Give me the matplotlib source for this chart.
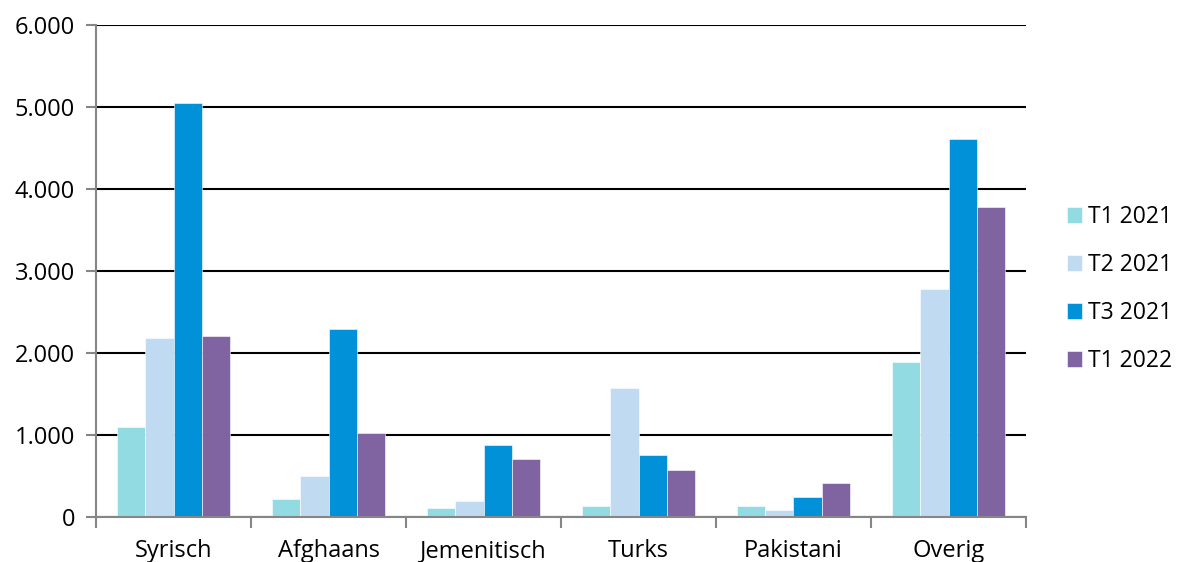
import numpy as np
import matplotlib
matplotlib.use("Agg")
import matplotlib.pyplot as plt
from matplotlib.ticker import FuncFormatter, FixedLocator

# data
categories = ["Syrisch", "Afghaans", "Jemenitisch", "Turks", "Pakistani", "Overig"]
series_names = ["T1 2021", "T2 2021", "T3 2021", "T1 2022"]
t1_2021 = [1100, 220, 110, 130, 130, 1890]
t2_2021 = [2180, 500, 200, 1570, 80, 2780]
t3_2021 = [5050, 2290, 880, 760, 240, 4610]
t1_2022 = [2210, 1020, 710, 570, 420, 3780]
y_ticks = [0, 1000, 2000, 3000, 4000, 5000, 6000]

colors = ["#92DBE3", "#C0DAF2", "#0091D8", "#8064A2"]
series = [t1_2021, t2_2021, t3_2021, t1_2022]

plt.rcParams['font.family'] = ['Open Sans', 'DejaVu Sans']

fig = plt.figure(figsize=(11.77, 5.62), dpi=100)
ax = fig.add_axes([96 / 1177, 45 / 562, 930 / 1177, 492 / 562])

x = np.arange(len(categories))
bar_w = 0.1825
for i, (vals, col, name) in enumerate(zip(series, colors, series_names)):
    ax.bar(x + (i - 1.5) * bar_w, vals, width=bar_w, color=col, label=name,
           edgecolor="white", linewidth=0.4, zorder=3)

ax.set_xlim(-0.5, len(categories) - 0.5)
ax.set_ylim(0, 6000)
ax.set_yticks(y_ticks)
ax.yaxis.set_major_formatter(FuncFormatter(lambda v, p: f"{int(v):,}".replace(",", ".")))
ax.yaxis.grid(True, color="black", linewidth=1.5, zorder=0)
ax.set_axisbelow(True)

# category boundaries as major ticks, names on minor ticks
ax.xaxis.set_major_locator(FixedLocator(np.arange(-0.5, len(categories), 1.0)))
ax.xaxis.set_major_formatter(FuncFormatter(lambda v, p: ""))
ax.xaxis.set_minor_locator(FixedLocator(x))
ax.set_xticklabels(categories, minor=True)
ax.tick_params(axis="x", which="major", length=8, width=1.5, color="#868686", direction="out")
ax.tick_params(axis="x", which="minor", length=0, pad=16, labelsize=17)
ax.tick_params(axis="y", length=7, width=1.5, color="#868686", labelsize=17, pad=8)

for side in ["top", "right"]:
    ax.spines[side].set_visible(False)
for side in ["left", "bottom"]:
    ax.spines[side].set_color("#868686")
    ax.spines[side].set_linewidth(1.5)
    ax.spines[side].set_zorder(4)

fig.legend(loc="center left", bbox_to_anchor=(1067 / 1177, 1 - 289 / 562), frameon=False,
           fontsize=16.5, handlelength=0.66, handleheight=0.66, handletextpad=0.25,
           labelspacing=1.05, borderpad=0, borderaxespad=0)

fig.savefig("out.png", dpi=100)
